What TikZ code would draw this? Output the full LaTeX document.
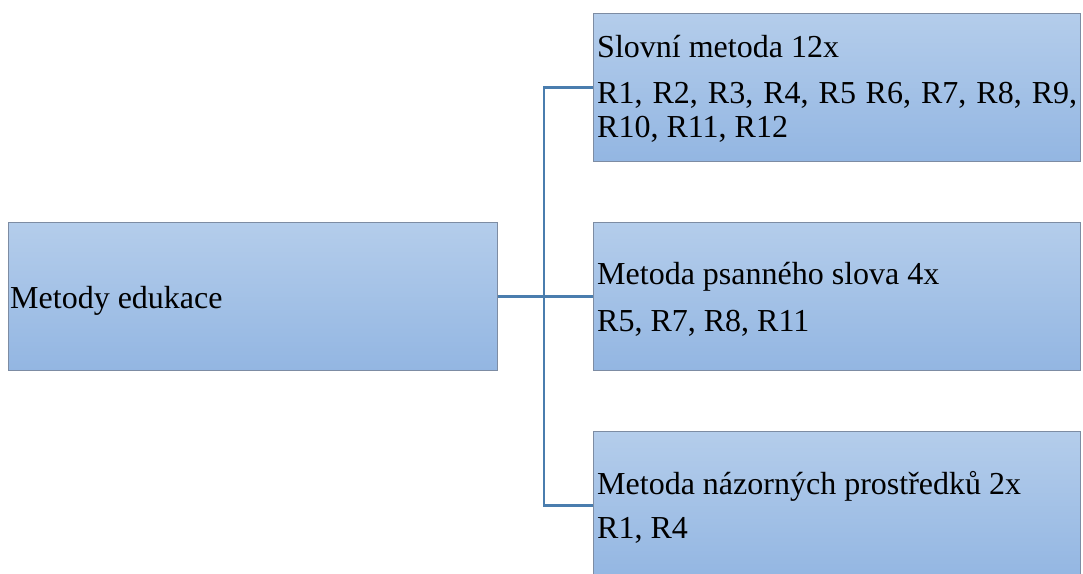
\documentclass[tikz,border=0pt]{standalone}
\usepackage{fontspec}
\setmainfont{Liberation Serif}
\begin{document}
\begin{tikzpicture}[x=1pt,y=-1pt,
  box/.style={draw=boxedge, line width=1pt, top color=boxtop, bottom color=boxbot,
    rectangle, inner sep=0pt, anchor=north west},
  label/.style={anchor=base west, inner sep=0pt, font=\fontsize{32}{35}\selectfont},
  conn/.style={draw=linkblue, line width=2.2pt}]
\definecolor{boxtop}{HTML}{B4CDEB}
\definecolor{boxbot}{HTML}{93B6E2}
\definecolor{boxedge}{HTML}{7D8CA3}
\definecolor{linkblue}{HTML}{4A7DAE}
\useasboundingbox (0,0) rectangle (1083,573);
\clip (0,0) rectangle (1083,573);

% boxes
\node[box, minimum width=489pt, minimum height=148pt] (root) at (8,222) {};
\node[box, minimum width=487pt, minimum height=148pt] (verbal) at (593,13) {};
\node[box, minimum width=487pt, minimum height=148pt] (written) at (593,222) {};
\node[box, minimum width=487pt, minimum height=148pt] (visual) at (593,431) {};

% connectors
\coordinate (junction) at (544,296);
\draw[conn] (root.east) -- (written.west);
\draw[conn] (verbal.west) -| (junction);
\draw[conn] (visual.west) -| (junction);

% texts
\node[label] (t0) at (10,308) {Metody edukace};
\node[label] (t1) at (597,57) {Slovní metoda 12x};
\node[label] (t2) at (597,103) {\makebox[480pt][s]{R1, R2, R3, R4, R5 R6, R7, R8, R9,}};
\node[label] (t3) at (597,137) {R10, R11, R12};
\node[label] (t4) at (597,284) {Metoda psanného slova 4x};
\node[label] (t5) at (597,331) {R5, R7, R8, R11};
\node[label] (t6) at (597,494) {Metoda názorných prostředků 2x};
\node[label] (t7) at (597,538) {R1, R4};
\end{tikzpicture}
\end{document}
